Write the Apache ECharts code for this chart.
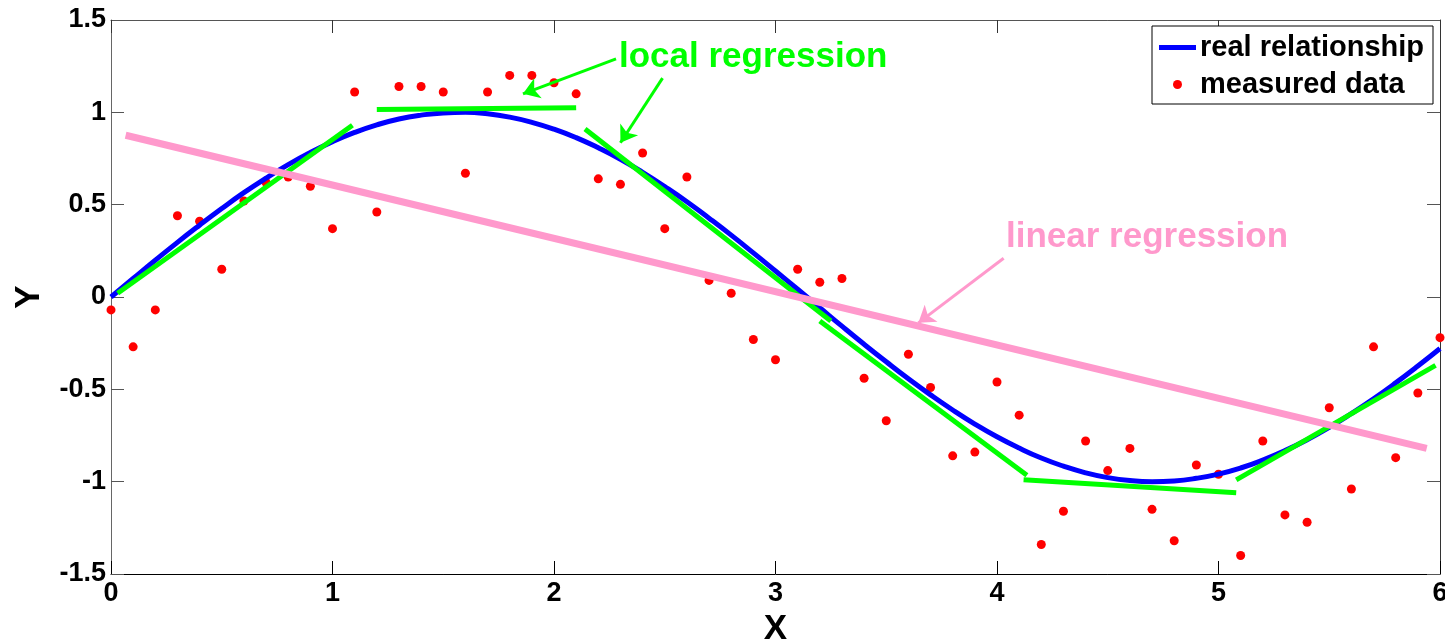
<!DOCTYPE html>
<html>
<head>
<meta charset="utf-8">
<script src="https://cdn.jsdelivr.net/npm/echarts@6/dist/echarts.min.js"></script>
<style>
  html, body { margin: 0; padding: 0; background: #fff; }
  #main { width: 1445px; height: 641px; }
</style>
</head>
<body>
<div id="main"></div>
<script>
// x positions shared by the dots and the blue curve
var xs = [0, 0.1, 0.2, 0.3, 0.4, 0.5, 0.6, 0.7, 0.8, 0.9, 1.0,
    1.1, 1.2, 1.3, 1.4, 1.5, 1.6, 1.7, 1.8, 1.9, 2.0, 2.1,
    2.2, 2.3, 2.4, 2.5, 2.6, 2.7, 2.8, 2.9, 3.0, 3.1, 3.2,
    3.3, 3.4, 3.5, 3.6, 3.7, 3.8, 3.9, 4.0, 4.1, 4.2, 4.3,
    4.4, 4.5, 4.6, 4.7, 4.8, 4.9, 5.0, 5.1, 5.2, 5.3, 5.4,
    5.5, 5.6, 5.7, 5.8, 5.9, 6.0];

var measuredY = [-0.07, -0.27, -0.07, 0.44, 0.41, 0.15, 0.52, 0.62, 0.65, 0.60, 0.37,
    1.11, 0.46, 1.14, 1.14, 1.11, 0.67, 1.11, 1.20, 1.20, 1.16, 1.10,
    0.64, 0.61, 0.78, 0.37, 0.65, 0.09, 0.02, -0.23, -0.34, 0.15, 0.08,
    0.10, -0.44, -0.67, -0.31, -0.49, -0.86, -0.84, -0.46, -0.64, -1.34, -1.16,
    -0.78, -0.94, -0.82, -1.15, -1.32, -0.91, -0.96, -1.40, -0.78, -1.18, -1.22,
    -0.60, -1.04, -0.27, -0.87, -0.52, -0.22];

// real relationship (blue curve)
var realY = [0, 0.100, 0.199, 0.296, 0.389, 0.479, 0.565, 0.644, 0.717, 0.783, 0.841,
    0.891, 0.932, 0.964, 0.985, 0.997, 1.0, 0.992, 0.974, 0.946, 0.909, 0.863,
    0.808, 0.746, 0.675, 0.598, 0.516, 0.427, 0.335, 0.239, 0.141, 0.042, -0.058,
    -0.158, -0.256, -0.351, -0.443, -0.530, -0.612, -0.688, -0.757, -0.818, -0.872, -0.916,
    -0.952, -0.978, -0.994, -1.0, -0.996, -0.982, -0.959, -0.926, -0.883, -0.832, -0.773,
    -0.706, -0.631, -0.551, -0.465, -0.374, -0.279];

// local regression pieces (green)
var localSegments = [
    [[0.03, 0.02], [1.09, 0.93]],
    [[1.2, 1.015], [2.1, 1.025]],
    [[2.14, 0.91], [3.25, -0.13]],
    [[3.2, -0.13], [4.135, -0.965]],
    [[4.12, -0.99], [5.08, -1.06]],
    [[5.08, -0.99], [5.98, -0.37]]
];

// linear regression (pink)
var linearLine = [[0.066, 0.876], [5.94, -0.82]];

// annotation arrows
var greenArrows = [
    [[2.28, 1.29], [1.86, 1.10]],
    [[2.49, 1.185], [2.30, 0.835]]
];
var pinkArrows = [
    [[4.03, 0.21], [3.645, -0.14]]
];

var FONT = '"Liberation Sans", Arial, sans-serif';
var BLUE = '#0000ff', GREEN = '#00ff00', PINK = '#ff99cc', RED = '#ff0000';

function pairs(a, b) {
    var out = [];
    for (var i = 0; i < a.length; i++) out.push([a[i], b[i]]);
    return out;
}

function arrowData(list) {
    return list.map(function (a) {
        return [{coord: a[0]}, {coord: a[1]}];
    });
}

var myChart = echarts.init(document.getElementById('main'));

var series = [];
series.push({
    name: 'measured data',
    type: 'scatter',
    data: pairs(xs, measuredY),
    symbol: 'circle',
    symbolSize: 9,
    itemStyle: {color: RED, opacity: 1},
    z: 2
});
series.push({
    name: 'real relationship',
    type: 'line',
    data: pairs(xs, realY),
    smooth: true,
    showSymbol: false,
    symbol: 'none',
    lineStyle: {color: BLUE, width: 5},
    itemStyle: {color: BLUE},
    z: 3
});
for (var i = 0; i < localSegments.length; i++) {
    series.push({
        name: 'local ' + i,
        type: 'line',
        data: localSegments[i],
        showSymbol: false,
        symbol: 'none',
        lineStyle: {color: GREEN, width: 5, cap: 'butt'},
        z: 4,
        markLine: i === 0 ? {
            silent: true,
            symbol: ['none', 'arrow'],
            symbolSize: 16,
            label: {show: false},
            lineStyle: {color: GREEN, width: 3, type: 'solid'},
            data: arrowData(greenArrows)
        } : undefined
    });
}
series.push({
    name: 'linear',
    type: 'line',
    data: linearLine,
    showSymbol: false,
    symbol: 'none',
    lineStyle: {color: PINK, width: 7, cap: 'butt'},
    z: 5,
    markLine: {
        silent: true,
        symbol: ['none', 'arrow'],
        symbolSize: 16,
        label: {show: false},
        lineStyle: {color: PINK, width: 3, type: 'solid'},
        data: arrowData(pinkArrows)
    }
});

var option = {
    animation: false,
    backgroundColor: '#fff',
    grid: {left: 111, right: 5, top: 20, bottom: 67, containLabel: false, outerBoundsMode: 'none'},
    legend: {
        data: [
            {name: 'real relationship', icon: 'path://M0,0 L37,0 L37,5 L0,5 Z'},
            {name: 'measured data', icon: 'circle'}
        ],
        orient: 'vertical',
        left: 1152,
        top: 26,
        itemWidth: 37,
        itemHeight: 9,
        itemGap: 8,
        padding: [7, 9, 5, 7],
        borderColor: '#000',
        borderWidth: 1,
        backgroundColor: '#fff',
        selectedMode: false,
        symbolKeepAspect: true,
        textStyle: {fontFamily: FONT, fontWeight: 'bold', fontSize: 29, color: '#000', padding: [0, 0, 0, -1]}
    },
    xAxis: [{
        type: 'value',
        min: 0, max: 6, interval: 1,
        name: 'X',
        nameLocation: 'middle',
        nameGap: 34,
        nameTextStyle: {fontFamily: FONT, fontWeight: 'bold', fontSize: 35, color: '#000'},
        axisLine: {onZero: false, lineStyle: {color: '#000', width: 1}},
        axisTick: {inside: true, length: 13, lineStyle: {color: '#000'}},
        axisLabel: {fontFamily: FONT, fontWeight: 'bold', fontSize: 27, color: '#000', margin: 6},
        splitLine: {show: false}
    }, {
        type: 'value',
        position: 'top',
        min: 0, max: 6, interval: 1,
        axisLine: {onZero: false, lineStyle: {color: '#555', width: 1}},
        axisTick: {inside: true, length: 13, lineStyle: {color: '#333'}},
        axisLabel: {show: false},
        splitLine: {show: false}
    }],
    yAxis: [{
        type: 'value',
        min: -1.5, max: 1.5, interval: 0.5,
        name: 'Y',
        nameLocation: 'middle',
        nameGap: 64,
        nameTextStyle: {fontFamily: FONT, fontWeight: 'bold', fontSize: 35, color: '#000'},
        axisLine: {onZero: false, lineStyle: {color: '#666', width: 1}},
        axisTick: {inside: true, length: 13, lineStyle: {color: '#555'}},
        axisLabel: {fontFamily: FONT, fontWeight: 'bold', fontSize: 27, color: '#000', margin: 5},
        splitLine: {show: false}
    }, {
        type: 'value',
        position: 'right',
        min: -1.5, max: 1.5, interval: 0.5,
        axisLine: {onZero: false, lineStyle: {color: '#333', width: 1}},
        axisTick: {inside: true, length: 13, lineStyle: {color: '#555'}},
        axisLabel: {show: false},
        splitLine: {show: false}
    }],
    graphic: [
        {
            type: 'text',
            x: 619, y: 57,
            z: 10,
            style: {text: 'local regression', fill: GREEN, font: 'bold 35px ' + FONT, verticalAlign: 'middle'}
        },
        {
            type: 'text',
            x: 1006, y: 237,
            z: 10,
            style: {text: 'linear regression', fill: PINK, font: 'bold 35px ' + FONT, verticalAlign: 'middle'}
        }
    ],
    series: series
};

myChart.setOption(option);
</script>
</body>
</html>
